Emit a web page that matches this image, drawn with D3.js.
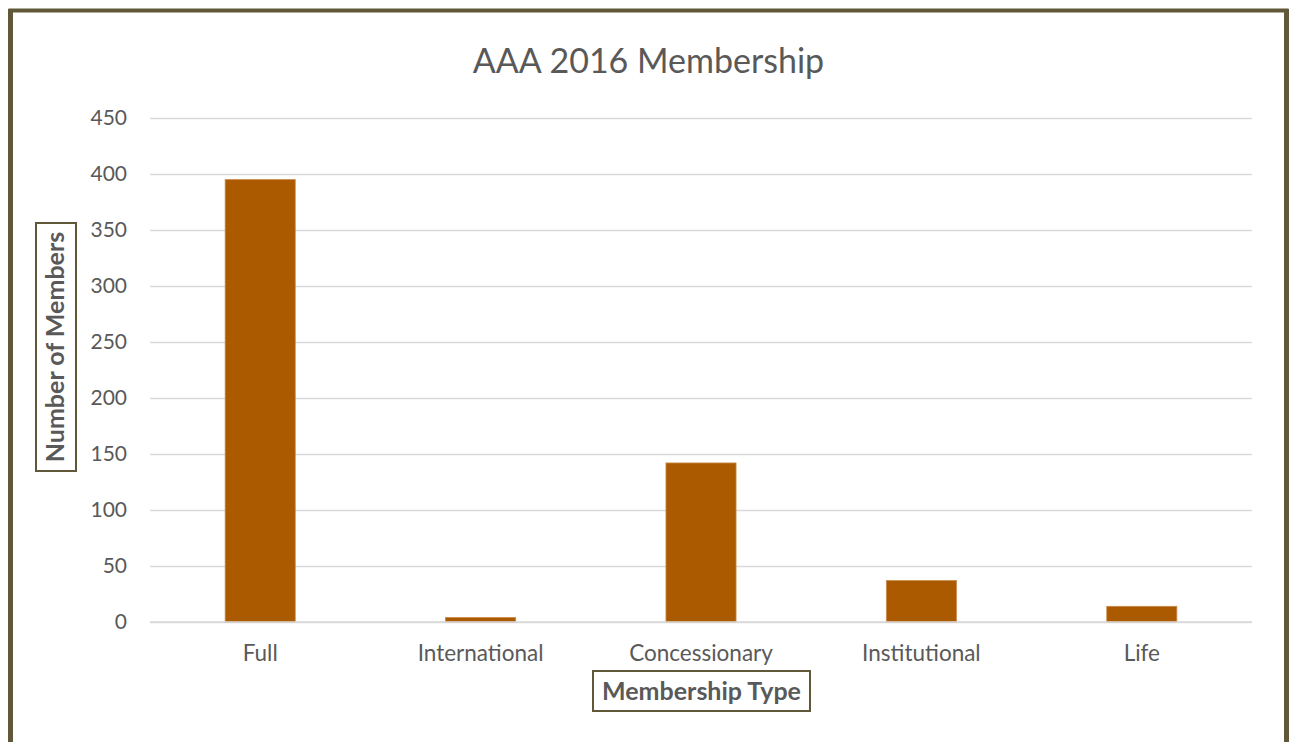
<!DOCTYPE html>
<html><head><meta charset="utf-8">
<script src="https://cdn.jsdelivr.net/npm/d3@7"></script>
<style>html,body{margin:0;padding:0;background:#fff;overflow:hidden}svg{display:block}</style>
</head><body>
<svg id="chart" width="1293" height="742"></svg>
<script>
const categories = ["Full", "International", "Concessionary", "Institutional", "Life"];
const members = [395, 4, 142, 37, 14];
const yTicks = [0, 50, 100, 150, 200, 250, 300, 350, 400, 450];
const titleText = "AAA 2016 Membership";
const xTitle = "Membership Type";
const yTitle = "Number of Members";

(function () {
const svg = d3.select("#chart");
const font = "Lato, 'Open Sans', sans-serif";
const textColor = "#595959";

// outer frame
svg.append("rect").attr("x", 10.5).attr("y", 10.5).attr("width", 1276).attr("height", 760)
  .attr("fill", "#fff").attr("stroke", "#605838").attr("stroke-width", 4);
svg.append("rect").attr("x", 8).attr("y", 9).attr("width", 5).attr("height", 740).attr("fill", "#605838");
svg.append("rect").attr("x", 1284).attr("y", 9).attr("width", 5).attr("height", 740).attr("fill", "#605838");

const pl = 150, pr = 1252, pt = 118, pb = 622;
const x = d3.scaleBand().domain(categories).range([pl, pr]).paddingInner(0.682).paddingOuter(0.341);
const y = d3.scaleLinear().domain([0, 450]).range([pb, pt]);

// gridlines
const yAxis = d3.axisLeft(y).tickValues(yTicks).tickSize(-(pr - pl)).tickPadding(23);
const gy = svg.append("g").attr("transform", `translate(${pl},0)`).call(yAxis);
gy.select(".domain").remove();
gy.selectAll(".tick line").attr("stroke", "#d9d9d9").attr("stroke-width", 1.5);
gy.selectAll(".tick text").attr("fill", textColor).style("font-family", font).style("font-size", "21px");

// bars
svg.append("g").selectAll("rect").data(categories).join("rect")
  .attr("x", d => x(d))
  .attr("width", x.bandwidth())
  .attr("y", (d, i) => y(members[i]))
  .attr("height", (d, i) => y(0) - y(members[i]))
  .attr("fill", "#ab5a00")
  .attr("stroke", "#c98a4a").attr("stroke-width", 0.8);

// x axis labels
const xAxis = d3.axisBottom(x).tickSize(0).tickPadding(23);
const gx = svg.append("g").attr("transform", `translate(0,${pb})`).call(xAxis);
gx.select(".domain").remove();
gx.selectAll(".tick text").attr("fill", textColor).style("font-family", font).style("font-size", "22.5px");
svg.append("line").attr("x1", pl).attr("x2", pr).attr("y1", y(0)).attr("y2", y(0))
  .attr("stroke", "#d9d9d9").attr("stroke-width", 1.5);

// title
svg.append("text").attr("x", 648.5).attr("y", 73).attr("text-anchor", "middle")
  .attr("fill", textColor).style("font-family", font).style("font-size", "34px").text(titleText);

// x title with box
svg.append("rect").attr("x", 593).attr("y", 671).attr("width", 217).attr("height", 40)
  .attr("fill", "#fff").attr("stroke", "#605838").attr("stroke-width", 2);
svg.append("text").attr("x", 701.5).attr("y", 700).attr("text-anchor", "middle")
  .attr("fill", textColor).style("font-family", font).style("font-size", "25px").style("font-weight", "bold").text(xTitle);

// y title with box
svg.append("rect").attr("x", 36).attr("y", 223).attr("width", 40).attr("height", 248)
  .attr("fill", "#fff").attr("stroke", "#605838").attr("stroke-width", 2);
svg.append("text").attr("transform", "translate(64,347) rotate(-90)").attr("text-anchor", "middle")
  .attr("fill", textColor).style("font-family", font).style("font-size", "25px").style("font-weight", "bold").text(yTitle);
})();
</script>
</body></html>
